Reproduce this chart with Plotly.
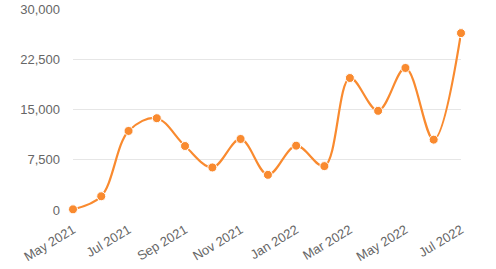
import plotly.graph_objects as go

months = ["2021-05-01", "2021-06-01", "2021-07-01", "2021-08-01", "2021-09-01",
          "2021-10-01", "2021-11-01", "2021-12-01", "2022-01-01", "2022-02-01",
          "2022-03-01", "2022-04-01", "2022-05-01", "2022-06-01", "2022-07-01"]
values = [100, 2050, 11800, 13700, 9550, 6350, 10600, 5250, 9600, 6550,
          19700, 14800, 21200, 10500, 26400]
y_ticks = [0, 7500, 15000, 22500, 30000]
y_labels = ["0", "7,500", "15,000", "22,500", "30,000"]

color = "#F98A2F"

fig = go.Figure(go.Scatter(
    x=months, y=values, mode="lines+markers",
    line=dict(color=color, width=2.2, shape="spline", smoothing=1.0),
    marker=dict(color=color, size=9, line=dict(color="white", width=1)),
    hoverinfo="skip",
))

fig.update_layout(
    width=496, height=269,
    margin=dict(l=73, r=35, t=9, b=59),
    plot_bgcolor="white", paper_bgcolor="white",
    showlegend=False,
    font=dict(family="Liberation Sans, Arial, sans-serif", size=13, color="#666666"),
)
fig.update_xaxes(
    type="date", range=["2021-05-01", "2022-07-01"],
    tickmode="linear", tick0="2021-05-01", dtick="M2", tickformat="%b %Y",
    tickangle=-31, showgrid=False, zeroline=False, showline=False,
    ticks="", tickfont=dict(size=13, color="#666666"), automargin=False,
    ticklabelstandoff=9,
)
fig.update_yaxes(
    range=[0, 30000], tickvals=y_ticks, ticktext=y_labels,
    showgrid=True, gridcolor="#e6e6e6", gridwidth=1, zeroline=False,
    showline=False, ticks="", ticklabelstandoff=12,
    tickfont=dict(size=13, color="#666666"), automargin=False,
)
fig.update_traces(cliponaxis=False)

fig.write_html("out.html")
